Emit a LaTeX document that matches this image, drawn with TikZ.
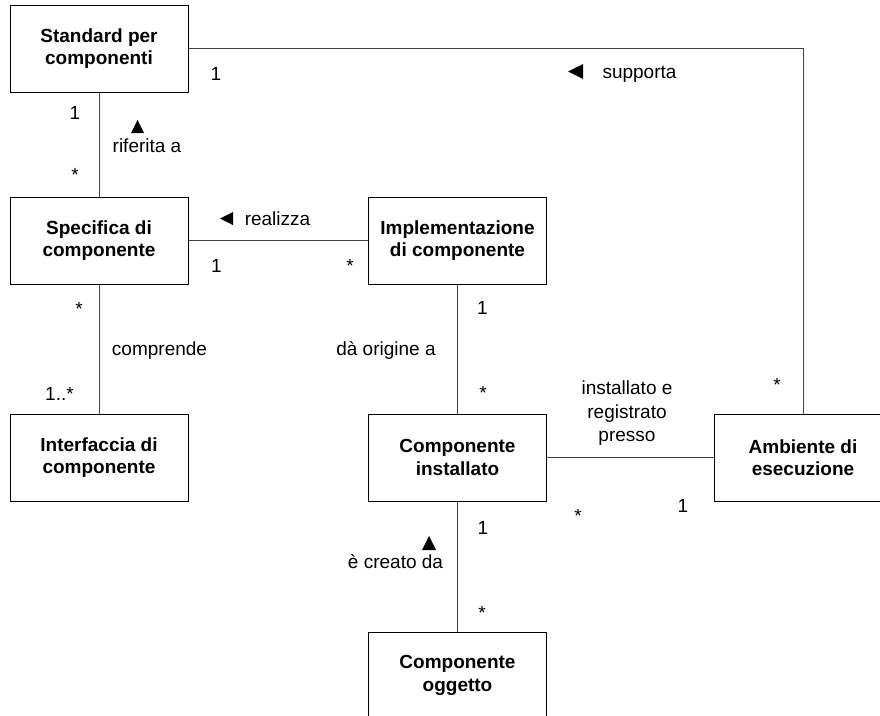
\documentclass[tikz,border=0pt]{standalone}
\usepackage{fontspec}
\setmainfont{Liberation Sans}
\begin{document}
\begin{tikzpicture}[x=1pt,y=-1pt,
  cls/.style={draw=black, line width=1pt, minimum width=178pt, minimum height=87pt,
    inner sep=0pt, align=center, font=\bfseries\fontsize{19}{22.5}\selectfont},
  assoc/.style={draw=black!75, line width=1pt},
  lbl/.style={anchor=base, inner sep=0pt, font=\fontsize{19}{23.5}\selectfont},
  mlbl/.style={anchor=center, inner sep=0pt, align=center, font=\fontsize{19}{23.5}\selectfont},
  dirmark/.style={fill=black}]
\useasboundingbox (0,0) rectangle (880,715);
\clip (0,0) rectangle (880,715);

% classes
\node[cls] (std)  at (99,48.5)    {Standard per\\componenti};
\node[cls] (spec) at (99,240.5)   {Specifica di\\componente};
\node[cls] (intf) at (99,457.5)   {Interfaccia di\\componente};
\node[cls] (impl) at (457.5,240.5) {Implementazione\\di componente};
\node[cls] (inst) at (457.5,457.5) {Componente\\installato};
\node[cls] (ogg)  at (457.5,675.5) {Componente\\oggetto};
\node[cls] (amb)  at (803,457.5)   {Ambiente di\\esecuzione};

% associations
\draw[assoc] (std.east) -| (amb.north);
\draw[assoc] (std.south) -- (spec.north);
\draw[assoc] (spec.east) -- (impl.west);
\draw[assoc] (spec.south) -- (intf.north);
\draw[assoc] (impl.south) -- (inst.north);
\draw[assoc] (inst.east) -- (amb.west);
\draw[assoc] (inst.south) -- (ogg.north);

% supporta
\node[lbl] (m1) at (216,80) {1};
\fill[dirmark] (568,71.5) -- (583,64) -- (583,79) -- cycle;
\node[lbl] (supp) at (639.5,78) {supporta};
\node[lbl] (m2) at (777,391) {*};

% riferita a
\node[lbl] (m3) at (75,119) {1};
\fill[dirmark] (137.5,120) -- (131,133) -- (144,133) -- cycle;
\node[lbl] (rif) at (147,152) {riferita a};
\node[lbl] (m4) at (75,181) {*};

% realizza
\fill[dirmark] (220,218.5) -- (233,212) -- (233,225) -- cycle;
\node[lbl] (real) at (277.5,225) {realizza};
\node[lbl] (m5) at (216.5,272) {1};
\node[lbl] (m6) at (350,272) {*};

% comprende
\node[lbl] (m7) at (79,315) {*};
\node[lbl] (compr) at (159.5,355) {comprende};
\node[lbl] (m8) at (59.5,400) {1..*};

% da origine a
\node[lbl] (m9) at (482.5,314) {1};
\node[lbl] (orig) at (386,355) {dà origine a};
\node[lbl] (m10) at (483,399) {*};

% installato e registrato presso
\node[mlbl] (reg) at (627,413.5) {installato e\\registrato\\presso};
\node[lbl] (m11) at (578,522) {*};
\node[lbl] (m12) at (683,512) {1};

% e creato da
\node[lbl] (m13) at (483,534) {1};
\fill[dirmark] (429,536) -- (422,550) -- (436,550) -- cycle;
\node[lbl] (creat) at (395.5,568) {è creato da};
\node[lbl] (m14) at (482,619) {*};
\end{tikzpicture}
\end{document}
